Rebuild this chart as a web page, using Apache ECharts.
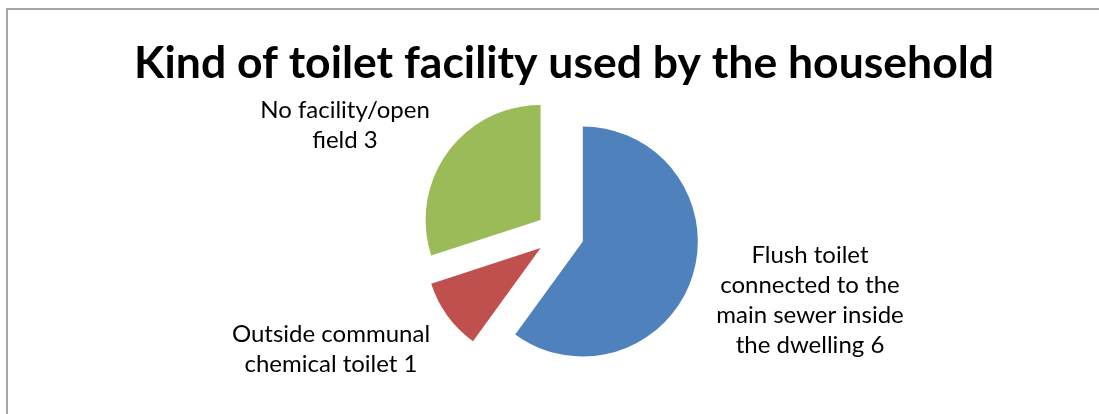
<!DOCTYPE html>
<html>
<head>
<meta charset="utf-8">
<script src="https://cdn.jsdelivr.net/npm/echarts@6/dist/echarts.min.js"></script>
<style>
  html, body { margin: 0; padding: 0; background: #fff; }
  #chart { width: 1099px; height: 414px; }
</style>
</head>
<body>
<div id="chart"></div>
<script>
  // categories and counts
  var categories = [
    'Flush toilet\nconnected to the\nmain sewer inside\nthe dwelling',
    'Outside communal\nchemical toilet',
    'No facility/open\nfield'
  ]
  var counts = [6, 1, 3]
  var colors = ['#4F81BD', '#C0504D', '#9BBB59']

  // centre of each label block
  var labelPos = [[810, 300], [331, 349], [345, 125]]

  var myChart = echarts.init(document.getElementById('chart'))

  var pieData = []
  for (let i = 0; i < categories.length; i++) {
    pieData.push({
      name: categories[i],
      value: counts[i],
      selected: true,
      itemStyle: { color: colors[i] }
    })
  }

  // gray frame of the original (top and left edges only)
  var graphics = [
    { type: 'line', shape: { x1: 6, y1: 9, x2: 1099, y2: 9 }, style: { stroke: '#a6a6a6', lineWidth: 2 } },
    { type: 'line', shape: { x1: 7, y1: 9, x2: 7, y2: 414 }, style: { stroke: '#a6a6a6', lineWidth: 2 } }
  ]
  // slice labels "name value"
  for (let i = 0; i < categories.length; i++) {
    graphics.push({
      type: 'text',
      x: labelPos[i][0],
      y: labelPos[i][1],
      style: {
        text: categories[i] + ' ' + counts[i],
        fontFamily: 'Lato',
        fontSize: 24,
        lineHeight: 30,
        fill: '#000',
        align: 'center',
        verticalAlign: 'middle'
      }
    })
  }

  let option = {
    backgroundColor: '#fff',
    animation: false,
    title: {
      text: 'Kind of toilet facility used by the household',
      left: 559,
      textAlign: 'center',
      top: 36,
      textStyle: {
        fontFamily: 'Lato',
        fontWeight: 'bold',
        fontSize: 44.5,
        color: '#000'
      }
    },
    graphic: graphics,
    series: [
      {
        type: 'pie',
        center: [560, 234],
        radius: 115,
        startAngle: 90,
        clockwise: true,
        selectedMode: 'multiple',
        selectedOffset: 24,
        label: { show: false },
        labelLine: { show: false },
        emphasis: { disabled: true },
        data: pieData
      }
    ]
  }
  myChart.setOption(option, true)
</script>
</body>
</html>
